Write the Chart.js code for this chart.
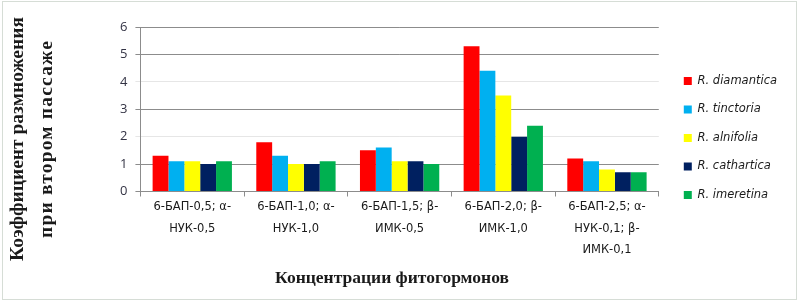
<!DOCTYPE html>
<html>
<head>
<meta charset="utf-8">
<script src="https://cdn.jsdelivr.net/npm/chart.js@4"></script>
<style>
    html, body { margin: 0; padding: 0; background: #fff; }
    #wrap { position: relative; width: 803px; height: 305px; }
    #frame {
        position: absolute; left: 2px; top: 1px; width: 795px; height: 299px;
        border: 1px solid #d6ddd6; box-sizing: border-box; pointer-events: none;
    }
</style>
</head>
<body>
<div id="wrap">
    <canvas id="chart"></canvas>
    <div id="frame"></div>
</div>
<script>
// категории (концентрации фитогормонов)
const categories = [
    ["6-БАП-0,5; α-", "НУК-0,5"],
    ["6-БАП-1,0; α-", "НУК-1,0"],
    ["6-БАП-1,5; β-", "ИМК-0,5"],
    ["6-БАП-2,0; β-", "ИМК-1,0"],
    ["6-БАП-2,5; α-", "НУК-0,1; β-", "ИМК-0,1"]
];

const seriesNames = ["R. diamantica", "R. tinctoria", "R. alnifolia", "R. cathartica", "R. imeretina"];
const seriesColors = ["#ff0000", "#00b0f0", "#ffff00", "#002060", "#00b050"];

const diamantica = [1.3, 1.8, 1.5, 5.3, 1.2];
const tinctoria  = [1.1, 1.3, 1.6, 4.4, 1.1];
const alnifolia  = [1.1, 1.0, 1.1, 3.5, 0.8];
const cathartica = [1.0, 1.0, 1.1, 2.0, 0.7];
const imeretina  = [1.1, 1.1, 1.0, 2.4, 0.7];

const yTicks = [0, 1, 2, 3, 4, 5, 6];
const yTitle = ["Коэффициент размножения", "при втором пассаже"];
const xTitle = "Концентрации фитогормонов";

const seriesValues = [diamantica, tinctoria, alnifolia, cathartica, imeretina];

const datasets = seriesNames.map((name, i) => ({
    label: name,
    data: seriesValues[i],
    backgroundColor: seriesColors[i],
    borderWidth: 0,
    barPercentage: 1,
    categoryPercentage: 0.765
}));

// заголовки осей рисуем сами: в оригинале они стоят не по центру области графика
const axisTitles = {
    id: "axisTitles",
    afterDraw(chart) {
        const ctx = chart.ctx;
        ctx.save();
        ctx.fillStyle = "#1a1a1a";
        ctx.textAlign = "center";
        ctx.textBaseline = "middle";
        ctx.font = "bold 19.5px 'Liberation Serif'";

        // Y: две строки, повернуты
        [18, 47].forEach((x, i) => {
            ctx.save();
            ctx.letterSpacing = i === 1 ? "1.2px" : "0px";
            ctx.translate(x, 139);
            ctx.rotate(-Math.PI / 2);
            ctx.fillText(yTitle[i], 0, 0);
            ctx.restore();
        });

        // X
        ctx.font = "bold 17.5px 'Liberation Serif'";
        ctx.fillText(xTitle, 392, 278);
        ctx.restore();
    }
};

// сдвигаем легенду, как в оригинале
const legendShift = {
    id: "legendShift",
    afterLayout(chart) {
        chart.legend.top -= 6;
        chart.legend.bottom -= 6;
        chart.legend.left += 8;
        chart.legend.right += 8;
    }
};

new Chart(document.getElementById("chart"), {
    type: "bar",
    data: { labels: categories, datasets: datasets },
    plugins: [axisTitles, legendShift],
    options: {
        responsive: true,
        maintainAspectRatio: false,
        animation: false,
        devicePixelRatio: 1,
        layout: { padding: { top: 27, right: 24, bottom: 44, left: 112 } },
        plugins: {
            tooltip: { enabled: false },
            legend: {
                position: "right",
                align: "center",
                labels: {
                    boxWidth: 8,
                    boxHeight: 8,
                    padding: 17,
                    color: "#1a1a1a",
                    font: { family: "DejaVu Sans", size: 11.5, style: "italic" }
                }
            }
        },
        scales: {
            x: {
                grid: {
                    drawOnChartArea: false,
                    color: "#8c8c8c",
                    tickLength: 5
                },
                border: { color: "#8c8c8c" },
                ticks: {
                    maxRotation: 0,
                    autoSkip: false,
                    color: "#1a1a1a",
                    padding: 0,
                    font: { family: "DejaVu Sans", size: 11.5, lineHeight: 1.87 }
                }
            },
            y: {
                min: 0,
                max: 6,
                afterBuildTicks: axis => { axis.ticks = yTicks.map(v => ({ value: v })); },
                grid: {
                    tickLength: 5,
                    color: ctx => (ctx.tick && (ctx.tick.value === 2 || ctx.tick.value === 4)) ? "#e6e6e6" : "#8c8c8c"
                },
                border: { color: "#8c8c8c" },
                ticks: {
                    color: "#333344",
                    padding: 8,
                    font: { family: "Open Sans", size: 13 }
                }
            }
        }
    }
});
</script>
</body>
</html>
